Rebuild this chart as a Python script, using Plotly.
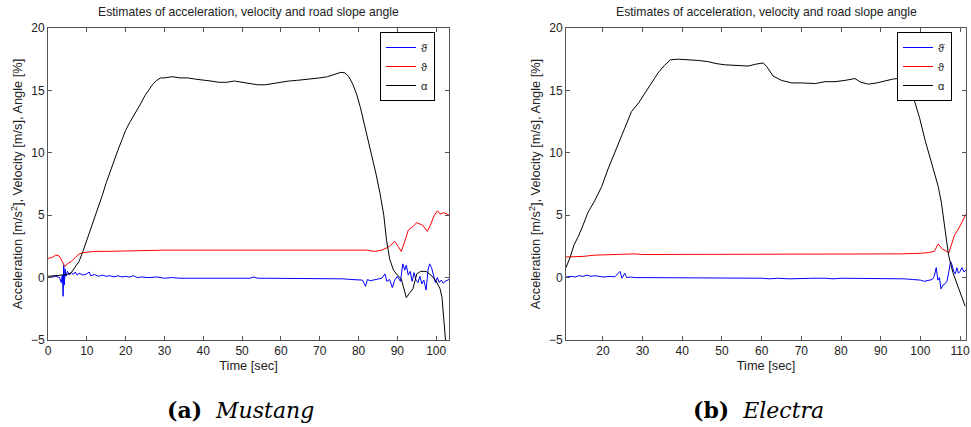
import plotly.graph_objects as go

# ---------------- Mustang (a) ----------------
a_t_acc = [0, 1, 2, 3, 3.4, 3.7, 3.9, 4.05, 4.2, 4.4, 4.6, 5, 5.5, 6, 6.5, 7, 7.5, 8, 9, 10, 10.6, 11, 12, 13, 14, 15,
           16, 17, 18, 19, 20, 21, 22, 23, 24, 26, 28, 30, 32, 34, 36, 38, 40, 42, 44, 46, 48, 50, 52, 53, 54, 56,
           58, 60, 62, 64, 66, 68, 70, 72, 74, 76, 78, 80, 81, 81.8, 82.3, 83, 84, 85, 86, 86.8, 87.3, 88, 88.7,
           89.3, 90, 90.8, 91.4, 91.9, 92.3, 92.8, 93.3, 93.8, 94.3, 94.8, 95.3, 95.8, 96.3, 96.8, 97.4, 97.9,
           98.3, 98.8, 99.3, 99.8, 100.3, 100.8, 101.3, 101.8, 102.3, 102.8, 103.3]
a_acc = [0.0, 0.05, 0.1, 0.0, -0.4, 0.2, -1.5, 1.0, -0.6, 0.7, 0.1, 0.5, 0.2, 0.4, 0.25, 0.45, 0.2, 0.35, 0.2, 0.3,
         0.45, 0.15, 0.25, 0.1, 0.2, 0.1, 0.15, 0.05, 0.15, 0.05, 0.1, 0.05, 0.15, 0.0, 0.05, 0.0, 0.05, -0.05, 0.0,
         -0.05, -0.05, -0.05, -0.05, -0.05, -0.05, -0.05, -0.05, -0.05, -0.05, 0.05, -0.05, -0.05, -0.05, -0.05,
         -0.05, -0.05, -0.05, -0.05, -0.05, -0.05, -0.05, -0.1, -0.15, -0.2, -0.2, -0.7, -0.15, -0.25, -0.2, -0.15,
         -0.05, 0.3, -0.3, -0.15, -0.8, -0.2, 0.1, -0.3, 1.1, 0.6, 1.0, 0.2, 0.5, -0.3, 0.4, -0.2, -0.4, 0.1, -0.5,
         -0.2, -1.0, 0.6, 1.1, 0.8, 0.1, -0.4, 0.0, -0.4, -0.2, -0.45, -0.3, -0.2, -0.15]

a_t_vel = [0, 1, 2, 2.8, 3.5, 4.3, 5, 6, 7, 8, 9, 10, 12, 15, 20, 25, 30, 35, 40, 50, 60, 70, 75, 80, 82, 84, 86,
           88, 89.3, 90.2, 91, 92, 92.8, 94, 95, 96.5, 97.7, 98.5, 99.5, 100.3, 101, 102, 103.3]
a_vel = [1.55, 1.6, 1.8, 1.75, 1.4, 0.9, 1.1, 1.3, 1.6, 1.9, 2.0, 2.05, 2.1, 2.1, 2.15, 2.15, 2.2, 2.2, 2.2, 2.2,
         2.2, 2.2, 2.25, 2.25, 2.2, 2.1, 2.2, 2.5, 2.9, 2.5, 2.1, 3.0, 3.8, 4.1, 4.4, 4.2, 3.7, 4.2, 5.0, 5.35, 5.1,
         5.2, 5.0]

a_t_ang = [0, 2, 4, 5, 6, 7, 8, 9, 10, 11, 12, 13, 14, 15, 16, 17, 18, 19, 20, 21, 22, 23, 24, 25, 26, 27, 28, 29,
           30, 32, 34, 36, 38, 40, 42, 44, 46, 48, 50, 52, 54, 56, 58, 60, 62, 64, 66, 68, 70, 72, 74, 75.5, 76.5,
           77.5, 78.5, 79.5, 80.5, 81.5, 82.5, 83.5, 84.5, 85.5, 86.5, 87.2, 88, 89, 90, 91, 92.3, 93, 94, 95, 96,
           97.4, 99, 100, 101, 101.5, 102, 102.4, 102.8]
a_ang = [0.1, 0.15, 0.2, 0.25, 0.4, 0.9, 1.3, 2.1, 3.0, 3.8, 4.7, 5.7, 6.6, 7.6, 8.5, 9.4, 10.2, 11.0, 11.8, 12.4,
         12.9, 13.4, 14.0, 14.6, 15.1, 15.5, 15.8, 16.0, 16.0, 16.1, 16.0, 16.0, 15.9, 15.85, 15.75, 15.65, 15.65,
         15.75, 15.65, 15.5, 15.45, 15.45, 15.55, 15.7, 15.75, 15.8, 15.85, 15.9, 16.0, 16.1, 16.3, 16.45, 16.4,
         16.1, 15.5, 14.7, 13.6, 12.3, 11.0, 9.7, 8.3, 6.8, 5.0, 3.0, 1.5, 0.6, 0.2, -0.1, -1.6, -1.3, -0.9, 0.3,
         0.5, 0.5, 0.1, -0.3, -0.9, -1.6, -3.6, -5.0, -6.5]

# ---------------- Electra (b) ----------------
b_t_acc = [10.7, 12, 13, 14, 15, 16, 17, 18, 19, 20, 22, 23, 24.3, 24.8, 25.5, 26, 27, 28, 30, 32, 34, 35, 37, 40,
           43, 45, 48, 50, 53, 55, 58, 60, 62, 64, 67, 70, 73, 76, 78, 80, 83, 85, 88, 90, 93, 96, 98, 100, 101,
           102, 103, 103.5, 104, 104.4, 104.8, 105.2, 105.7, 106.2, 106.7, 107.2, 107.6, 108, 108.4, 108.8, 109.2,
           109.6, 110, 110.5, 111, 111.5]
b_acc = [0.05, 0.1, 0.05, 0.15, 0.1, 0.2, 0.1, 0.15, 0.1, 0.05, 0.1, 0.05, 0.5, -0.05, 0.35, 0.0, 0.05, 0.0, 0.0,
         0.0, 0.0, -0.05, 0.0, -0.05, 0.0, -0.05, 0.0, -0.05, -0.05, 0.0, -0.05, -0.05, -0.1, -0.05, -0.1, -0.05,
         -0.05, -0.05, -0.1, -0.05, -0.05, -0.05, -0.1, -0.05, -0.1, -0.1, -0.15, -0.2, -0.3, -0.25, -0.15, 0.1,
         0.8, -0.2, 0.0, -0.9, -0.6, -0.5, -0.3, 0.5, 1.3, 1.0, 0.5, 0.3, 0.8, 0.35, 0.5, 0.8, 0.45, 0.6]

b_t_vel = [10.7, 13, 15, 18, 20, 25, 28, 30, 35, 40, 45, 50, 55, 57, 58, 60, 65, 70, 75, 80, 83, 85, 90, 95, 100,
           102, 103.5, 104.5, 105.5, 106.5, 107.2, 107.8, 108.6, 109.6, 110.5, 111.5]
b_vel = [1.65, 1.65, 1.7, 1.8, 1.82, 1.85, 1.9, 1.85, 1.85, 1.85, 1.85, 1.85, 1.88, 1.9, 1.85, 1.85, 1.85, 1.85,
         1.85, 1.9, 1.9, 1.85, 1.85, 1.9, 1.95, 2.0, 2.1, 2.7, 2.3, 2.1, 2.0, 2.6, 3.4, 3.9, 4.5, 5.1]

b_t_ang = [10.7, 11.7, 12.7, 13.8, 15, 16.2, 18, 19.7, 21.3, 23, 24.3, 25.6, 27.2, 29, 30.6, 32.3, 33.9, 35.5, 37,
           39, 42.4, 44, 46.6, 48.5, 50.8, 53, 56.6, 58.5, 60.4, 61.3, 62.9, 65, 67.6, 70, 73.5, 76, 78.5, 81,
           83.5, 85, 86.9, 89, 91.1, 93, 95.3, 96.8, 98.2, 99.8, 101.2, 102.9, 104.5, 105.3, 106.2, 107.1, 108.2,
           110, 111.3]
b_ang = [0.8, 1.6, 2.6, 3.3, 4.2, 5.2, 6.2, 7.3, 8.7, 10.0, 11.1, 12.1, 13.3, 14.0, 14.8, 15.7, 16.4, 17.0, 17.45,
         17.5, 17.45, 17.4, 17.3, 17.15, 17.05, 17.0, 16.95, 17.1, 17.2, 16.9, 16.15, 15.8, 15.6, 15.6, 15.55, 15.7,
         15.7, 15.8, 15.95, 15.65, 15.5, 15.6, 15.75, 15.9, 16.0, 15.6, 14.5, 12.8, 11.0, 9.2, 7.3, 6.0, 3.8, 1.8,
         0.4, -1.2, -2.3]

labels = ["\u03d1\u0307", "\u03d1", "\u03b1"]
colors = ["#0000ff", "#ff0000", "#000000"]
title_text = "Estimates of acceleration, velocity and road slope angle"
ylabel = "Acceleration [m/s<sup>2</sup>], Velocity [m/s], Angle [%]"
xlabel = "Time [sec]"
captions = ["<b>(a)</b>  <i>Mustang</i>", "<b>(b)</b>  <i>Electra</i>"]

W, H = 971, 427
FONT = "Liberation Sans, Arial, sans-serif"
TXT = 12.8

fig = go.Figure()
series = [
    ([a_t_acc, a_t_vel, a_t_ang], [a_acc, a_vel, a_ang], "x", "y", "legend"),
    ([b_t_acc, b_t_vel, b_t_ang], [b_acc, b_vel, b_ang], "x2", "y2", "legend2"),
]
for ts, vs, xa, ya, lg in series:
    for t, v, name, c in zip(ts, vs, labels, colors):
        fig.add_trace(go.Scatter(x=t, y=v, mode="lines", name=name, line=dict(color=c, width=1),
                                 xaxis=xa, yaxis=ya, legend=lg))

ydom = [1 - 340 / H, 1 - 28 / H]
axis_common = dict(showline=True, linecolor="#555", linewidth=1, mirror="ticks", ticks="inside", ticklen=4,
                   tickcolor="#555", showgrid=False, zeroline=False, automargin=False,
                   tickfont=dict(family=FONT, size=12, color="#222"))
fig.update_layout(
    width=W, height=H, margin=dict(l=0, r=0, t=0, b=0),
    paper_bgcolor="white", plot_bgcolor="white",
    font=dict(family=FONT, size=12, color="#222"),
    xaxis=dict(domain=[48 / W, 449 / W], range=[0, 103.3], tick0=0, dtick=10, anchor="y",
               title=dict(text=xlabel, standoff=3, font=dict(size=TXT)), **axis_common),
    yaxis=dict(domain=ydom, range=[-5, 20], tick0=-5, dtick=5, anchor="x",
               title=dict(text=ylabel, standoff=5, font=dict(size=TXT)), **axis_common),
    xaxis2=dict(domain=[566 / W, 966 / W], range=[10.7, 111.5], tick0=0, dtick=10, anchor="y2",
                title=dict(text=xlabel, standoff=3, font=dict(size=TXT)), **axis_common),
    yaxis2=dict(domain=ydom, range=[-5, 20], tick0=-5, dtick=5, anchor="x2",
                title=dict(text=ylabel, standoff=5, font=dict(size=TXT)), **axis_common),
    legend=dict(x=380 / W, y=1 - 32 / H, xanchor="left", yanchor="top", bgcolor="white",
                bordercolor="#000", borderwidth=1, font=dict(size=11), tracegroupgap=0),
    legend2=dict(x=897 / W, y=1 - 32 / H, xanchor="left", yanchor="top", bgcolor="white",
                 bordercolor="#000", borderwidth=1, font=dict(size=11), tracegroupgap=0),
)

for cx in [(48 + 449) / 2, (566 + 966) / 2]:
    fig.add_annotation(text=title_text, x=cx / W, y=1 - 12 / H, xref="paper", yref="paper",
                       xanchor="center", yanchor="middle",
                       showarrow=False, font=dict(family=FONT, size=12.2, color="#222"))
for cx, cap in zip([240, 758], captions):
    fig.add_annotation(text=cap, x=cx / W, y=1 - 410 / H, xref="paper", yref="paper",
                       xanchor="center", yanchor="middle",
                       showarrow=False, font=dict(family="DejaVu Serif, serif", size=22, color="#000"))

fig.write_html("out.html")
